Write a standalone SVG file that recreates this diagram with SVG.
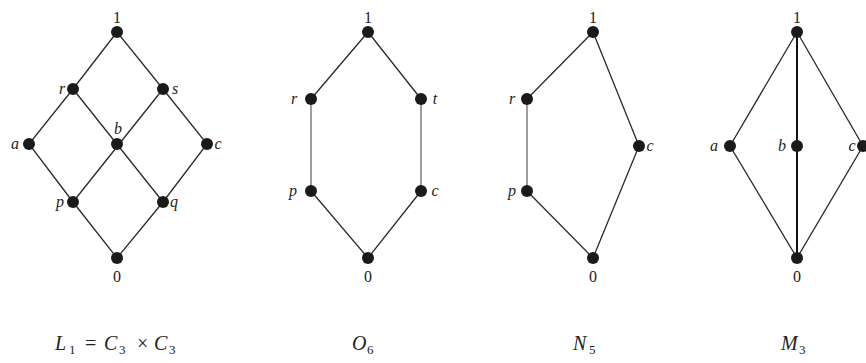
<svg xmlns="http://www.w3.org/2000/svg" width="866" height="363" viewBox="0 0 866 363">
<style>
.e{stroke:#2a2a2a;stroke-width:1.3;fill:none}
.g{stroke:#6a6a6a;stroke-width:1.3;fill:none}
.n{fill:#1a1a1a}
.t{font-family:"Liberation Serif",serif;font-style:italic;font-size:16px;fill:#222}
.u{font-family:"Liberation Serif",serif;font-size:16px;fill:#222}
.cap{font-family:"Liberation Serif",serif;font-style:italic;font-size:20px;fill:#222}
.r{font-style:normal}
.sub{font-family:"Liberation Serif",serif;font-style:normal;font-size:13px}
</style>
<rect width="866" height="363" fill="#ffffff"/>
<g id="connectors">
<path class="e" d="M117,32 L73,89 L29,144 L73,202 L117,258 L163,202 L207,144 L163,89 Z M73,89 L163,202 M163,89 L73,202"/>
<path class="e" d="M368,32 L311,99 M368,32 L421,99 M311,191 L368,258 L421,191"/>
<path class="g" d="M311,99 L311,191 M421,99 L421,191"/>
<path class="e" d="M593,32 L527,99 M593,32 L639,146 L593,258 L527,191"/>
<path class="g" d="M527,99 L527,191"/>
<path class="e" d="M797,32 L730,146 L797,258 L863,146 Z"/>
<path class="e" d="M797,32 L797,258" style="stroke-width:2;stroke:#111"/>
</g>
<g id="L1">
<g id="L1-1"><circle class="n" cx="117" cy="32" r="6"/><text class="u" x="117" y="23" text-anchor="middle">1</text></g>
<g id="L1-r"><circle class="n" cx="73" cy="89" r="6"/><text class="t" x="62" y="94" text-anchor="middle">r</text></g>
<g id="L1-s"><circle class="n" cx="163" cy="89" r="6"/><text class="t" x="175" y="94" text-anchor="middle">s</text></g>
<g id="L1-a"><circle class="n" cx="29" cy="144" r="6"/><text class="t" x="15" y="149" text-anchor="middle">a</text></g>
<g id="L1-b"><circle class="n" cx="117" cy="144" r="6"/><text class="t" x="118" y="134" text-anchor="middle">b</text></g>
<g id="L1-c"><circle class="n" cx="207" cy="144" r="6"/><text class="t" x="218" y="149" text-anchor="middle">c</text></g>
<g id="L1-p"><circle class="n" cx="73" cy="202" r="6"/><text class="t" x="60" y="207" text-anchor="middle">p</text></g>
<g id="L1-q"><circle class="n" cx="163" cy="202" r="6"/><text class="t" x="174" y="207" text-anchor="middle">q</text></g>
<g id="L1-0"><circle class="n" cx="117" cy="258" r="6"/><text class="u" x="117" y="282" text-anchor="middle">0</text></g>
</g>
<g id="O6">
<g id="O6-1"><circle class="n" cx="368" cy="32" r="6"/><text class="u" x="368" y="23" text-anchor="middle">1</text></g>
<g id="O6-r"><circle class="n" cx="311" cy="99" r="6"/><text class="t" x="294" y="104" text-anchor="middle">r</text></g>
<g id="O6-t"><circle class="n" cx="421" cy="99" r="6"/><text class="t" x="435" y="104" text-anchor="middle">t</text></g>
<g id="O6-p"><circle class="n" cx="311" cy="191" r="6"/><text class="t" x="293" y="196" text-anchor="middle">p</text></g>
<g id="O6-c"><circle class="n" cx="421" cy="191" r="6"/><text class="t" x="435" y="196" text-anchor="middle">c</text></g>
<g id="O6-0"><circle class="n" cx="368" cy="258" r="6"/><text class="u" x="368" y="282" text-anchor="middle">0</text></g>
</g>
<g id="N5">
<g id="N5-1"><circle class="n" cx="593" cy="32" r="6"/><text class="u" x="593" y="23" text-anchor="middle">1</text></g>
<g id="N5-r"><circle class="n" cx="527" cy="99" r="6"/><text class="t" x="512" y="104" text-anchor="middle">r</text></g>
<g id="N5-p"><circle class="n" cx="527" cy="191" r="6"/><text class="t" x="512" y="196" text-anchor="middle">p</text></g>
<g id="N5-c"><circle class="n" cx="639" cy="146" r="6"/><text class="t" x="650" y="151" text-anchor="middle">c</text></g>
<g id="N5-0"><circle class="n" cx="593" cy="258" r="6"/><text class="u" x="593" y="282" text-anchor="middle">0</text></g>
</g>
<g id="M3">
<g id="M3-1"><circle class="n" cx="797" cy="32" r="6"/><text class="u" x="797" y="23" text-anchor="middle">1</text></g>
<g id="M3-a"><circle class="n" cx="730" cy="146" r="6"/><text class="t" x="714" y="151" text-anchor="middle">a</text></g>
<g id="M3-b"><circle class="n" cx="797" cy="146" r="6"/><text class="t" x="782" y="151" text-anchor="middle">b</text></g>
<g id="M3-c"><circle class="n" cx="863" cy="146" r="6"/><text class="t" x="852" y="151" text-anchor="middle">c</text></g>
<g id="M3-0"><circle class="n" cx="797" cy="258" r="6"/><text class="u" x="797" y="282" text-anchor="middle">0</text></g>
</g>
<g id="captions">
<text class="cap" y="350"><tspan x="55">L</tspan><tspan class="sub" x="69" y="354">1</tspan><tspan class="r" x="85" y="350">=</tspan><tspan x="104">C</tspan><tspan class="sub" x="119" y="354">3</tspan><tspan class="r" x="137" y="350">×</tspan><tspan x="154">C</tspan><tspan class="sub" x="169" y="354">3</tspan></text>
<text class="cap" y="350"><tspan x="352">O</tspan><tspan class="sub" x="367" y="354">6</tspan></text>
<text class="cap" y="350"><tspan x="573">N</tspan><tspan class="sub" x="589" y="354">5</tspan></text>
<text class="cap" y="350"><tspan x="781">M</tspan><tspan class="sub" x="799" y="354">3</tspan></text>
</g>
</svg>
